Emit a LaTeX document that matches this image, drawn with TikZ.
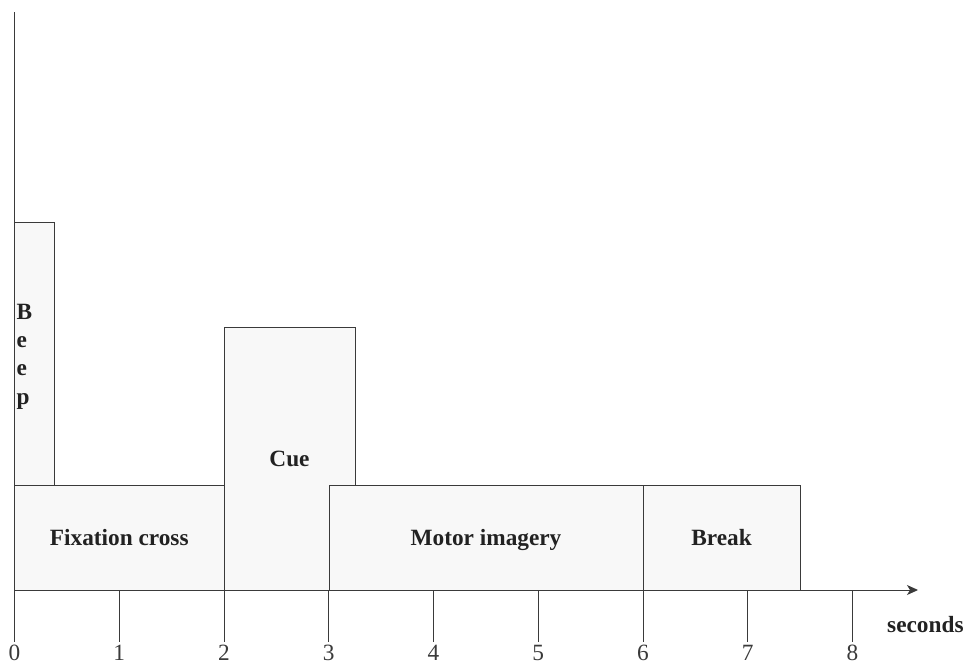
\documentclass[tikz,border=0pt]{standalone}
\usepackage{fontspec}
\setmainfont{Liberation Serif}
\usetikzlibrary{arrows.meta}
\definecolor{linec}{HTML}{3A3A3A}
\definecolor{textc}{HTML}{222222}
\definecolor{boxfill}{HTML}{F8F8F8}
\begin{document}
\begin{tikzpicture}[x=1pt,y=-1pt,
  every node/.style={font=\fontsize{23.3}{27.5}\selectfont},
  phase/.style={draw=linec, fill=boxfill, line width=1pt, rectangle, inner sep=0pt, outer sep=0pt, text=textc, font=\fontsize{23.3}{27.5}\selectfont\bfseries},
  axisline/.style={draw=linec, line width=1pt},
  ticklab/.style={anchor=base, inner sep=0pt, text=linec}
]
\useasboundingbox (0,0) rectangle (965,664);
% phase boxes
\node[phase, minimum width=209.5pt, minimum height=105pt] (fix) at (119.25,537.5) {Fixation cross};
\node[phase, minimum width=39.5pt, minimum height=263pt] (beep) at (34.25,353.5) {};
\node[anchor=west, inner sep=0pt, align=left, text=textc, font=\fontsize{23.3}{27.5}\selectfont\bfseries] (beeptxt) at (16.5,356.5) {B\\[0.8pt]e\\[0.8pt]e\\[0.8pt]p};
\node[phase, minimum width=131pt, minimum height=263pt] (cue) at (289.5,458.5) {Cue};
\node[phase, minimum width=314pt, minimum height=105pt] (mi) at (486,537.5) {\raisebox{0pt}[\height][0pt]{Motor imagery}};
\node[phase, minimum width=157pt, minimum height=105pt] (brk) at (721.5,537.5) {Break};
% axes
\coordinate (orig) at (14.5,590);
\coordinate (xend) at (918,590);
\coordinate (ytop) at (14.5,12);
\coordinate (ybot) at (14.5,642);
\draw[axisline] (ytop) -- (ybot);
\draw[axisline, -{Stealth[length=11pt,width=10pt,inset=3pt]}] (orig) -- (xend);
% ticks
\foreach \i in {0,...,8} {
  \coordinate (t\i) at ({14.5+104.75*\i},590);
  \coordinate (b\i) at ({14.5+104.75*\i},642);
  \draw[axisline] (t\i) -- (b\i);
  \node[ticklab] (l\i) at ({14.5+104.75*\i},660) {\i};
}
\node[anchor=base west, inner sep=0pt, text=textc, font=\fontsize{23.3}{27.5}\selectfont\bfseries] (sec) at (887,632) {seconds};
\end{tikzpicture}
\end{document}
